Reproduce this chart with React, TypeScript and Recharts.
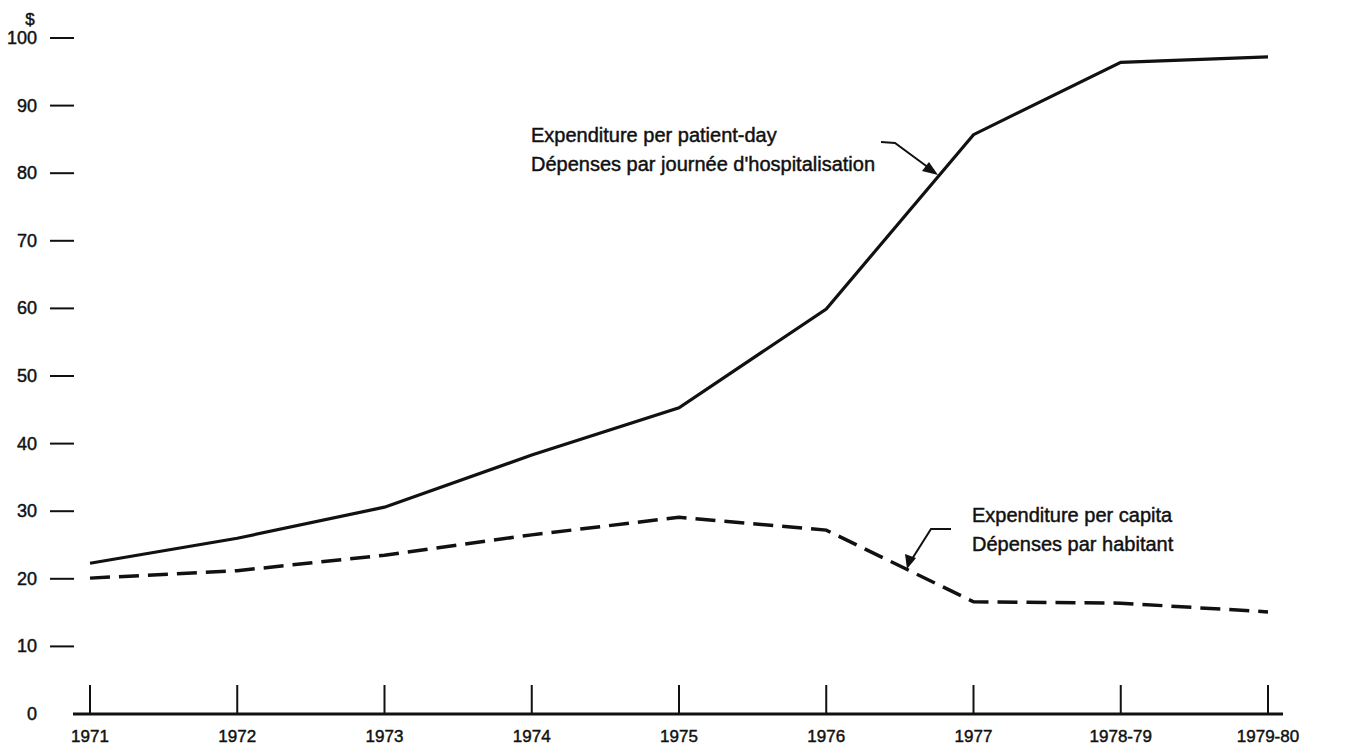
import { CartesianGrid, Customized, Line, LineChart, XAxis, YAxis } from "recharts";

const years = ["1971", "1972", "1973", "1974", "1975", "1976", "1977", "1978-79", "1979-80"];
const perPatientDay = [22.3, 26.0, 30.6, 38.3, 45.3, 59.9, 85.7, 96.4, 97.2];
const perCapita = [20.1, 21.2, 23.5, 26.5, 29.1, 27.2, 16.6, 16.4, 15.1];
const yTicks = [0, 10, 20, 30, 40, 50, 60, 70, 80, 90, 100];

const data = years.map((year, i) => ({
  year,
  patientDay: perPatientDay[i],
  capita: perCapita[i],
}));

const font = "'Liberation Sans', Arial, Helvetica, sans-serif";
const ink = "#111";
// scanned type is a touch heavier than regular Liberation Sans
const heavy = { stroke: ink, strokeWidth: 0.45 };

function LeftTick({ x, y, payload }: any) {
  const v = payload.value;
  return (
    <g>
      {v !== 0 && <line x1={x - 23} x2={x + 1} y1={y} y2={y} stroke={ink} strokeWidth={2} />}
      <text x={x - 36} y={y + 6} textAnchor="end" fontSize={18} fontFamily={font} fill={ink} {...heavy}>
        {v}
      </text>
      {v === 100 && (
        <text x={x - 43} y={y - 13} textAnchor="middle" fontSize={17} fontFamily={font} fill={ink} {...heavy}>
          $
        </text>
      )}
    </g>
  );
}

function RightTick({ x, y, payload }: any) {
  const v = payload.value;
  return (
    <g>
      {v !== 0 && <line x1={x + 3} x2={x + 30} y1={y} y2={y} stroke={ink} strokeWidth={2} />}
      <text x={x + 65} y={y + 6} textAnchor="end" fontSize={18} fontFamily={font} fill={ink} {...heavy}>
        {v}
      </text>
      {v === 100 && (
        <text x={x + 59} y={y - 13} textAnchor="middle" fontSize={17} fontFamily={font} fill={ink} {...heavy}>
          $
        </text>
      )}
    </g>
  );
}

function YearTick({ x, y, payload }: any) {
  return (
    <g>
      <line x1={x} x2={x} y1={y} y2={y - 29} stroke={ink} strokeWidth={2} />
      <text x={x} y={y + 28} textAnchor="middle" fontSize={17} fontFamily={font} fill={ink} {...heavy}>
        {payload.value}
      </text>
    </g>
  );
}

function Notes() {
  return (
    <g fontFamily={font} fontSize={20} fill={ink}>
      <text x={531} y={142} {...heavy}>Expenditure per patient-day</text>
      <text x={531} y={171} {...heavy}>Dépenses par journée d'hospitalisation</text>
      <polyline points="881,142 895,143 929,168" fill="none" stroke={ink} strokeWidth={2} />
      <polygon points="938,175 922,171 929,162" fill={ink} />

      <text x={972} y={522} {...heavy}>Expenditure per capita</text>
      <text x={972} y={551} {...heavy}>Dépenses par habitant</text>
      <polyline points="951,529 931,529 912,559" fill="none" stroke={ink} strokeWidth={2} />
      <polygon points="907,569 905,554 916,558" fill={ink} />
    </g>
  );
}

export default function App() {
  return (
    <div style={{ position: "absolute", left: 0, top: 0, width: 1366, height: 749, background: "#fff" }}>
      <LineChart width={1366} height={749} data={data} margin={{ top: 38, right: 0, bottom: 0, left: 0 }}>
        <CartesianGrid stroke="none" />
        <XAxis
          dataKey="year"
          height={35}
          padding={{ left: 17, right: 15 }}
          axisLine={{ stroke: ink, strokeWidth: 3 }}
          tickLine={false}
          tickSize={0}
          tickMargin={0}
          interval={0}
          tick={<YearTick />}
        />
        <YAxis
          yAxisId="left"
          orientation="left"
          width={73}
          domain={[0, 100]}
          ticks={yTicks}
          axisLine={false}
          tickLine={false}
          tickSize={0}
          tickMargin={0}
          interval={0}
          tick={<LeftTick />}
        />
        <YAxis
          yAxisId="right"
          orientation="right"
          width={83}
          domain={[0, 100]}
          ticks={yTicks}
          axisLine={false}
          tickLine={false}
          tickSize={0}
          tickMargin={0}
          interval={0}
          tick={<RightTick />}
        />
        <Line
          yAxisId="left"
          type="linear"
          dataKey="patientDay"
          stroke={ink}
          strokeWidth={3.2}
          dot={false}
          isAnimationActive={false}
        />
        <Line
          yAxisId="left"
          type="linear"
          dataKey="capita"
          stroke={ink}
          strokeWidth={3.5}
          strokeDasharray="20 9"
          dot={false}
          isAnimationActive={false}
        />
        <Customized component={Notes} />
      </LineChart>
    </div>
  );
}
